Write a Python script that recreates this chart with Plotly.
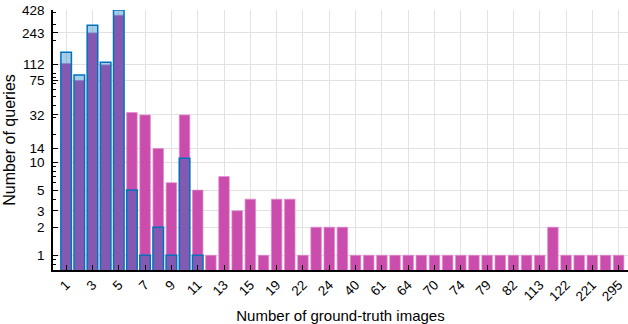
import plotly.graph_objects as go

# Categories: number of ground-truth images (every other one is labelled in the reference;
# the unlabelled in-between values are estimates)
categories = ["1", "2", "3", "4", "5", "6", "7", "8", "9", "10", "11", "12", "13", "14",
              "15", "17", "19", "20", "22", "23", "24", "30", "40", "50", "61", "63", "64",
              "67", "70", "72", "74", "77", "79", "80", "82", "100", "113", "118", "122",
              "150", "221", "250", "295"]

# Magenta series (all queries)
magenta_values = [114, 75, 243, 110, 376, 34, 32, 14, 6, 32, 5, 1, 7, 3,
                  4, 1, 4, 4, 1, 2, 2, 2, 1, 1, 1, 1, 1,
                  1, 1, 1, 1, 1, 1, 1, 1, 1, 1, 2, 1,
                  1, 1, 1, 1]

# Blue series (only first 11 categories)
blue_categories = categories[:11]
blue_values = [151, 86, 294, 118, 428, 5, 1, 2, 1, 11, 1]

x_tick_labels = ["1", "3", "5", "7", "9", "11", "13", "15", "19", "22", "24", "40", "61",
                 "64", "70", "74", "79", "82", "113", "122", "221", "295"]
y_tick_values = [1, 2, 3, 5, 10, 14, 32, 75, 112, 243, 428]
y_minor_values = [0.7, 0.8, 0.9, 2, 3, 4, 5, 6, 7, 8, 9, 20, 30, 40, 50, 60, 70, 80, 90,
                  200, 300, 400]

FONT = "Liberation Sans, Arial, Helvetica, sans-serif"

fig = go.Figure()
fig.add_trace(go.Bar(
    x=categories, y=magenta_values, width=0.8,
    marker=dict(color="rgb(202,76,172)", line=dict(color="rgba(225,140,205,0.9)", width=0.8)),
    showlegend=False,
))
fig.add_trace(go.Bar(
    x=blue_categories, y=blue_values, width=0.8,
    marker=dict(color="rgba(0,114,189,0.35)", line=dict(color="rgb(0,114,189)", width=1.5)),
    showlegend=False,
))

fig.update_layout(
    width=628, height=324,
    margin=dict(l=53, r=0, t=10, b=54),
    barmode="overlay",
    plot_bgcolor="white", paper_bgcolor="white",
    font=dict(family=FONT, size=13, color="black"),
    xaxis=dict(
        type="category",
        categoryorder="array", categoryarray=categories,
        range=[-1, 42.71],
        tickmode="array", tickvals=x_tick_labels, ticktext=x_tick_labels,
        tickangle=-45,
        ticks="inside", ticklen=5, tickwidth=1.2, tickcolor="black",
        showline=True, linecolor="black", linewidth=1.5,
        showgrid=True, gridcolor="rgb(226,226,226)", gridwidth=1,
        tickfont=dict(size=13.5),
        title=dict(text="Number of ground-truth images", font=dict(size=15), standoff=8),
        automargin=False,
    ),
    yaxis=dict(
        type="log",
        range=[-0.158, 2.6314],
        tickmode="array", tickvals=y_tick_values, ticktext=[str(v) for v in y_tick_values],
        ticks="inside", ticklen=5, tickwidth=1, tickcolor="black",
        minor=dict(tickmode="array", tickvals=y_minor_values, ticks="inside",
                   ticklen=3, tickcolor="black", showgrid=False),
        showline=True, linecolor="black", linewidth=1.5,
        showgrid=True, gridcolor="rgb(226,226,226)", gridwidth=1,
        zeroline=False,
        tickfont=dict(size=13.5),
        ticklabelstandoff=4,
        title=dict(text="Number of queries", font=dict(size=16), standoff=2),
        automargin=False,
    ),
)

fig.write_html("out.html", config={"displayModeBar": False},
               post_script="document.body.style.margin='0';document.body.style.padding='0';")
